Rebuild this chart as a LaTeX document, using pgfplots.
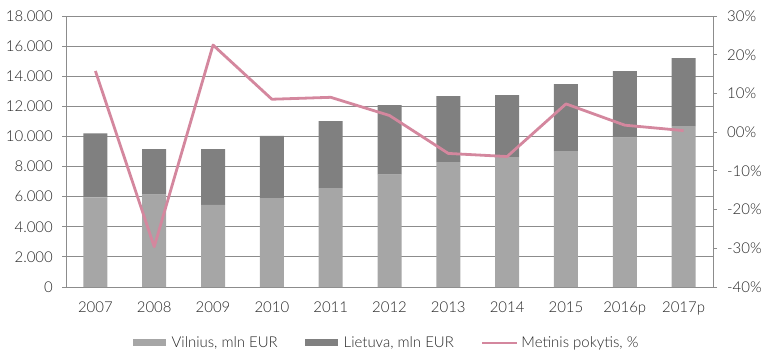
\documentclass[border=0pt]{standalone}
\usepackage{pgfplots}
\pgfplotsset{compat=1.18}
\usepackage{fontspec}
\setmainfont{Lato Light}
\definecolor{vil}{HTML}{A6A6A6}
\definecolor{lt}{HTML}{808080}
\definecolor{pinkline}{HTML}{D4879E}
\definecolor{axgray}{HTML}{8C8C8C}
\definecolor{txt}{HTML}{262626}
\begin{document}
\begin{tikzpicture}[x=1bp,y=1bp]
\useasboundingbox (-66,-72) rectangle (713,287);
\begin{axis}[
  at={(0,0)}, anchor=south west,
  scale only axis, width=647bp, height=271bp,
  xmin=-0.5, xmax=10.5,
  ymin=0, ymax=18000,
  scaled y ticks=false,
  ytick={0,2000,...,18000},
  yticklabels={0,2.000,4.000,6.000,8.000,10.000,12.000,14.000,16.000,18.000},
  xtick={0,...,10},
  xticklabels={2007,2008,2009,2010,2011,2012,2013,2014,2015,2016p,2017p},
  extra x ticks={-0.5,0.5,1.5,2.5,3.5,4.5,5.5,6.5,7.5,8.5,9.5,10.5},
  extra x tick labels={},
  extra x tick style={major tick length=5bp, tick style={axgray, line width=0.8pt}},
  x tick style={draw=none},
  ymajorgrids, grid style={axgray, line width=0.8pt},
  axis x line*=bottom, axis y line*=left,
  axis line style={axgray, line width=0.8pt},
  y tick style={axgray, line width=0.8pt},
  tick align=outside, major tick length=4bp,
  ticklabel style={font=\fontsize{15}{18}\selectfont, text=txt},
  /pgf/number format/assume math mode=true,
  yticklabel style={inner sep=0pt, xshift=-9bp},
  xticklabel style={inner sep=0pt, yshift=-11bp},
  ybar stacked, bar width=24bp,
  legend columns=3,
  legend style={at={(0.4954,-0.2066)}, anchor=center, draw=none, fill=none,
    font=\fontsize{15}{18}\selectfont, text=txt,
    /tikz/every even column/.append style={column sep=25bp}},
  legend image code/.code={\fill[#1] (0bp,-3.5bp) rectangle (33bp,3.5bp); \path (37bp,0bp);},
]
\addplot[fill=vil, draw=none] coordinates {
(0,5950) (1,6130) (2,5450) (3,5910) (4,6570) (5,7460) (6,8300) (7,8630) (8,9030) (9,9920) (10,10690)};
\addlegendentry{Vilnius, mln EUR}
\addplot[fill=lt, draw=none] coordinates {
(0,4250) (1,3030) (2,3710) (3,4120) (4,4450) (5,4620) (6,4380) (7,4120) (8,4450) (9,4420) (10,4510)};
\addlegendentry{Lietuva, mln EUR}
\addlegendimage{legend image code/.code={\draw[pinkline, line width=2.8bp] (0bp,0bp) -- (35bp,0bp); \path (37bp,0bp);}}
\addlegendentry{Metinis pokytis, \%}
\end{axis}
\begin{axis}[
  at={(0,0)}, anchor=south west,
  scale only axis, width=647bp, height=271bp,
  xmin=-0.5, xmax=10.5,
  ymin=-40, ymax=30,
  ytick={-40,-30,...,30},
  yticklabels={-40\%,-30\%,-20\%,-10\%,00\%,10\%,20\%,30\%},
  axis x line=none, axis y line*=right,
  axis line style={axgray, line width=0.8pt},
  y tick style={axgray, line width=0.8pt},
  tick align=outside, major tick length=4bp,
  ticklabel style={font=\fontsize{15}{18}\selectfont, text=txt},
  yticklabel style={inner sep=0pt, xshift=10bp},
  /pgf/number format/assume math mode=true,
]
\addplot[pinkline, line width=2.8bp, line join=round] coordinates {
(0,15.8) (1,-29.6) (2,22.5) (3,8.5) (4,9.0) (5,4.3) (6,-5.5) (7,-6.3) (8,7.3) (9,1.8) (10,0.4)};
\end{axis}
\end{tikzpicture}
\end{document}
